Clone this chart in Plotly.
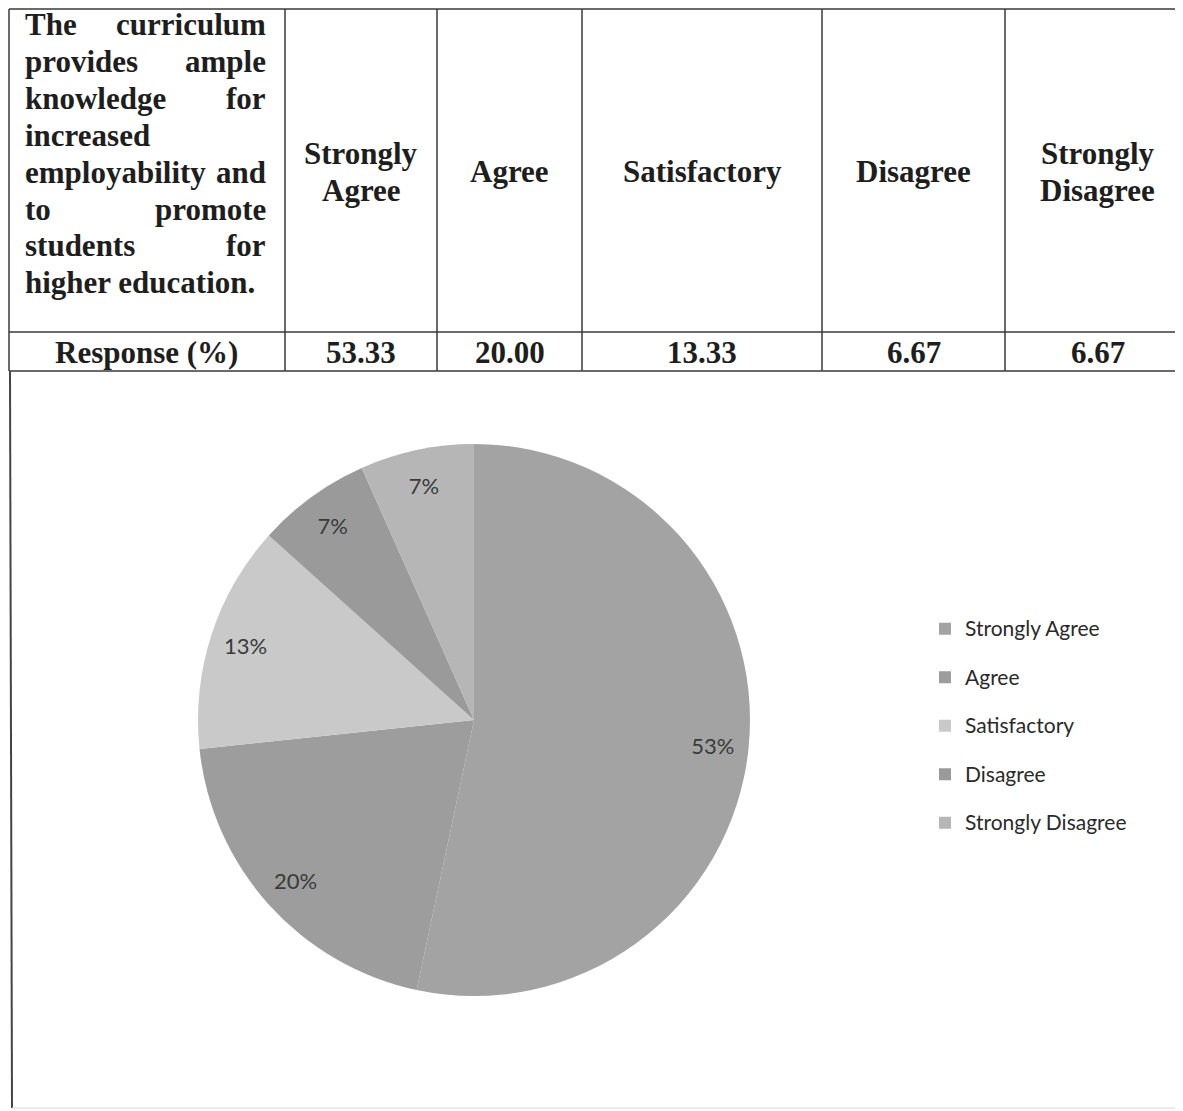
import plotly.graph_objects as go

# ---------------- data ----------------
question_lines = [
    "The curriculum",
    "provides ample",
    "knowledge for",
    "increased",
    "employability and",
    "to promote",
    "students for",
    "higher education.",
]
categories = ["Strongly Agree", "Agree", "Satisfactory", "Disagree", "Strongly Disagree"]
row_label = "Response (%)"
responses = [53.33, 20.00, 13.33, 6.67, 6.67]
slice_colors = ["#a3a3a3", "#9d9d9d", "#c9c9c9", "#9a9a9a", "#b6b6b6"]

# ---------------- layout constants (pixels, page coordinates) ----------------
W, H = 1183, 1111
OFF = 8                      # default page body margin
FW, FH = W - OFF, H - OFF    # figure size
col_edges = [9, 285, 437, 582, 822, 1005, 1190]
table_top, row_sep, table_bottom = 9, 332, 371
q_left, q_right, q_first_y, q_step = 23, 268, 25, 36.8
head_center_y, head_step = 172, 37
resp_y = 352


def px(x):
    return (x - OFF) / FW


def py(y):
    return 1 - (y - OFF) / FH


serif = dict(family="Liberation Serif", size=31, color="#1e1e1e", weight="bold")
line_col = "#3a3a3a"

shapes = []
annotations = []

# table grid
for y in (table_top, row_sep, table_bottom):
    shapes.append(dict(type="line", xref="paper", yref="paper",
                       x0=px(col_edges[0]), x1=px(W + 5), y0=py(y), y1=py(y),
                       line=dict(color=line_col, width=1.5)))
for x in col_edges[:-1]:
    shapes.append(dict(type="line", xref="paper", yref="paper",
                       x0=px(x), x1=px(x), y0=py(table_top), y1=py(table_bottom),
                       line=dict(color=line_col, width=1.5)))
# frame around chart area
shapes.append(dict(type="line", xref="paper", yref="paper",
                   x0=px(10), x1=px(12), y0=py(table_bottom), y1=py(1108),
                   line=dict(color="#444444", width=2)))
shapes.append(dict(type="line", xref="paper", yref="paper",
                   x0=px(12), x1=px(W + 5), y0=py(1108), y1=py(1108),
                   line=dict(color="#d8d8d8", width=1)))

# question text (justified: first word left, last word right)
for i, line in enumerate(question_lines):
    y = q_first_y + i * q_step
    words = line.split(" ")
    last = i == len(question_lines) - 1
    if len(words) > 1 and not last:
        annotations.append(dict(text=" ".join(words[:-1]), x=px(q_left), y=py(y),
                                xref="paper", yref="paper", xanchor="left", yanchor="middle",
                                showarrow=False, font=serif))
        annotations.append(dict(text=words[-1], x=px(q_right), y=py(y),
                                xref="paper", yref="paper", xanchor="right", yanchor="middle",
                                showarrow=False, font=serif))
    else:
        annotations.append(dict(text=line, x=px(q_left), y=py(y),
                                xref="paper", yref="paper", xanchor="left", yanchor="middle",
                                showarrow=False, font=serif))

# header categories
for j, cat in enumerate(categories):
    cx = (col_edges[j + 1] + col_edges[j + 2]) / 2
    parts = cat.split(" ")
    n = len(parts)
    for k, part in enumerate(parts):
        y = head_center_y + (k - (n - 1) / 2) * head_step
        annotations.append(dict(text=part, x=px(cx), y=py(y), xref="paper", yref="paper",
                                xanchor="center", yanchor="middle", showarrow=False, font=serif))

# response row
annotations.append(dict(text=row_label, x=px((7 + col_edges[1]) / 2), y=py(resp_y),
                        xref="paper", yref="paper", xanchor="center", yanchor="middle",
                        showarrow=False, font=serif))
for j, v in enumerate(responses):
    cx = (col_edges[j + 1] + col_edges[j + 2]) / 2
    annotations.append(dict(text=f"{v:.2f}", x=px(cx), y=py(resp_y), xref="paper", yref="paper",
                            xanchor="center", yanchor="middle", showarrow=False, font=serif))

# ---------------- pie ----------------
cx_pie, cy_pie, r_pie = 474, 720, 276
pie_domain = dict(x=[px(cx_pie - r_pie), px(cx_pie + r_pie)],
                  y=[py(cy_pie + r_pie), py(cy_pie - r_pie)])
legend_labels = [f"<span style='font-size:21px;baseline-shift:6px'>{c}</span>" for c in categories]

fig = go.Figure()
# filled pie (no labels)
fig.add_trace(go.Pie(
    labels=legend_labels,
    values=responses,
    sort=False,
    direction="clockwise",
    rotation=0,
    marker=dict(colors=slice_colors, line=dict(width=0)),
    textinfo="none",
    domain=pie_domain,
    hoverinfo="label+value",
))
# transparent ring carrying the percentage labels near the rim
fig.add_trace(go.Pie(
    labels=legend_labels,
    values=responses,
    sort=False,
    direction="clockwise",
    rotation=0,
    hole=0.74,
    marker=dict(colors=["rgba(0,0,0,0)"] * len(responses), line=dict(width=0)),
    texttemplate="%{percent:.0%}",
    textposition="inside",
    insidetextorientation="horizontal",
    textfont=dict(family="Lato", size=22, color="#3a3a3a"),
    domain=pie_domain,
    showlegend=False,
    hoverinfo="skip",
))

fig.update_layout(
    width=FW, height=FH,
    margin=dict(l=0, r=0, t=0, b=0),
    paper_bgcolor="white",
    plot_bgcolor="white",
    shapes=shapes,
    annotations=annotations,
    showlegend=True,
    legend=dict(
        x=px(925), y=py(726), xanchor="left", yanchor="middle",
        font=dict(family="Lato", size=35, color="#2a2a2a"),
        bgcolor="rgba(0,0,0,0)",
        traceorder="normal",
    ),
)

fig.write_html("out.html")
